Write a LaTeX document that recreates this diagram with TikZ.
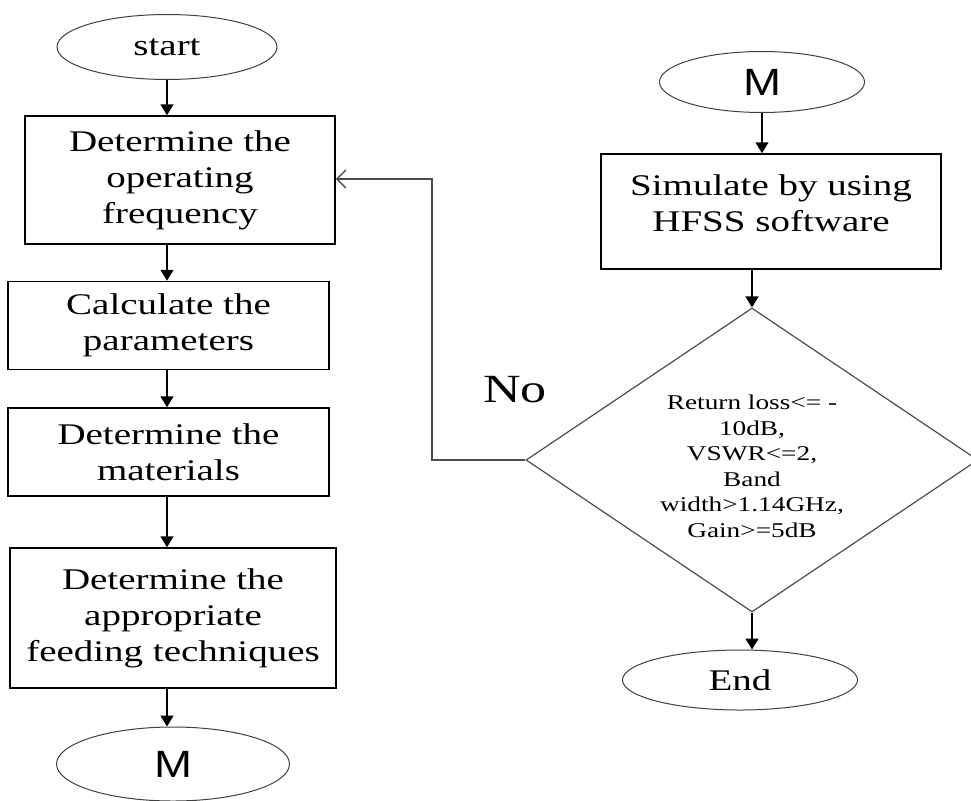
\documentclass[tikz,border=0pt]{standalone}
\usepackage{fontspec}
\setmainfont{Liberation Serif}[FakeStretch=1.3]
\newfontfamily\capsans{Liberation Sans}[FakeStretch=1.2]
\usetikzlibrary{shapes.geometric,arrows.meta}

\begin{document}
\begin{tikzpicture}[x=1pt,y=-1pt,
    term/.style={ellipse, draw=black!75, line width=1pt, inner sep=0pt},
    procbox/.style={rectangle, draw, line width=1.5pt, align=center, inner sep=0pt, font=\fontsize{30}{36}\selectfont},
    decision/.style={diamond, aspect=1.5, draw=black!70, line width=1.2pt, align=center, inner sep=0pt, font=\fontsize{21}{25.5}\selectfont},
    flow/.style={-{Triangle[length=11pt,width=13pt]}, line width=1.5pt},
    back/.style={-{Straight Barb[length=9pt,width=18pt]}, line width=1.5pt, draw=black!70}]
    \useasboundingbox (0,0) rectangle (971,800);
    \node[term, minimum width=220pt, minimum height=65pt, font=\fontsize{30}{36}\selectfont] (start) at (167,47) {start};
    \foreach \nm/\cx/\cy/\w/\h/\txt in {
        freq/180/180/310/128/{Determine the\\operating\\frequency},
        param/168.5/325.5/321/88/{Calculate the\\parameters},
        mat/168.5/452/321/88/{Determine the\\materials},
        feed/173/618/326/140/{Determine the\\appropriate\\feeding techniques}} {
        \node[procbox, minimum width=\w pt, minimum height=\h pt] (\nm) at (\cx,\cy) {\txt};
    }
    \node[term, minimum width=233pt, minimum height=74pt, font=\capsans\fontsize{38}{40}\selectfont] (mleft) at (173,764) {M};
    \foreach \a/\b in {start/freq, freq/param, param/mat, mat/feed, feed/mleft} {
        \draw[flow] (start.south |- \a.south) -- (start.south |- \b.north);
    }
    \node[term, minimum width=205pt, minimum height=61pt, font=\capsans\fontsize{38}{40}\selectfont] (mright) at (762,82) {M};
    \node[procbox, minimum width=340pt, minimum height=115pt] (sim) at (771,211.5) {Simulate by using\\HFSS software\\[-19pt]\mbox{}};
    \node[decision, minimum width=452pt, minimum height=304pt] (dec) at (752,460) {\mbox{}\\[2pt]Return loss<= -\\10dB,\\VSWR<=2,\\Band\\width>1.14GHz,\\Gain>=5dB};
    \node[term, minimum width=235pt, minimum height=60pt, font=\fontsize{30}{36}\selectfont] (end) at (740,680) {End};
    \draw[flow] (mright.south) -- (mright.south |- sim.north);
    \draw[flow] (dec.north |- sim.south) -- (dec.north);
    \draw[flow] (dec.south) -- (dec.south |- end.north);
    \coordinate (bend) at (432,179);
    \draw[back] (dec.west) -| (bend) -- (bend -| freq.east);
    \node[font=\fontsize{40}{44}\selectfont] (no) at (515,390) {No};
\end{tikzpicture}
\end{document}
